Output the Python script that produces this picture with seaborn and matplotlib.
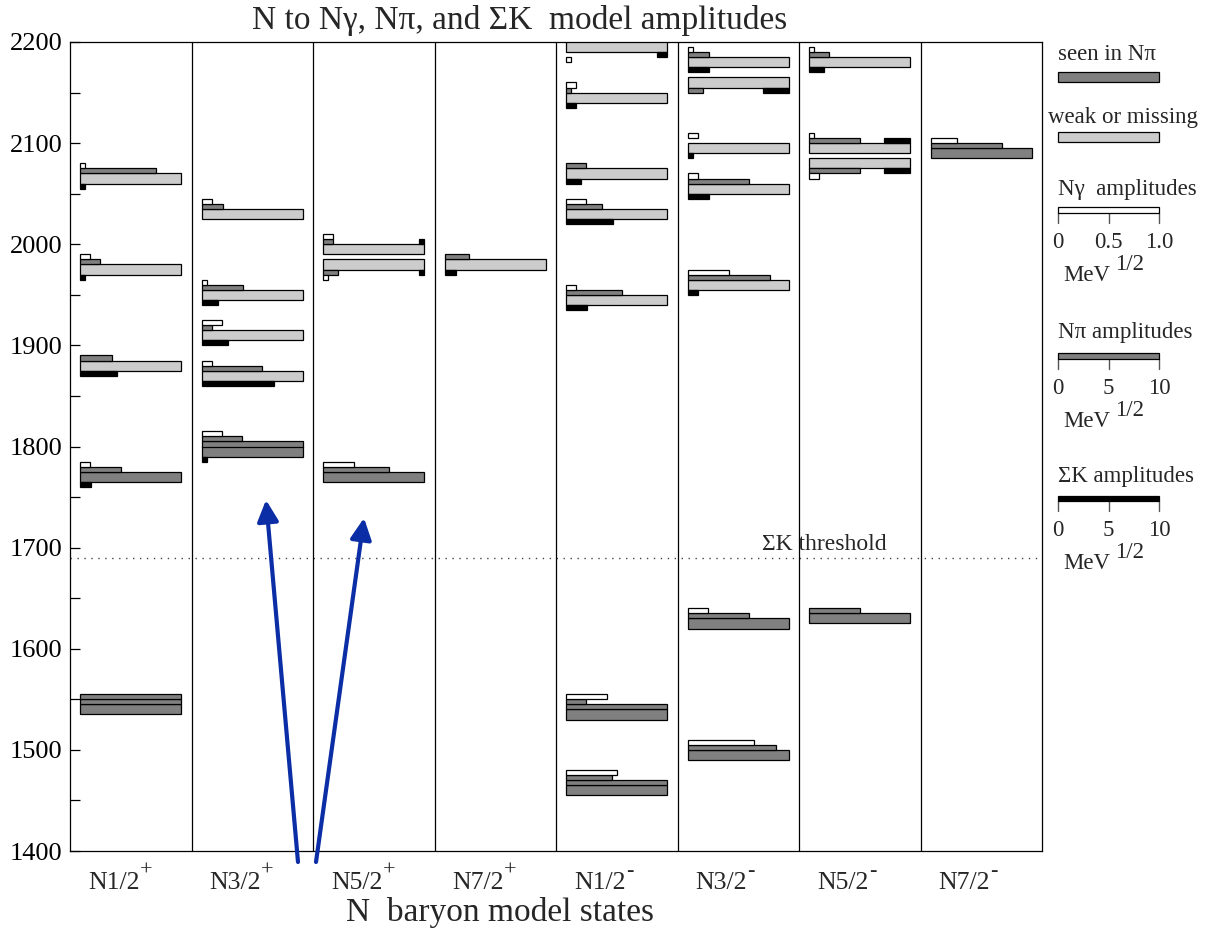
import math
import matplotlib
matplotlib.use("Agg")
import matplotlib.pyplot as plt
import seaborn as sns

# partial waves (one column each): base label and parity superscript
wave_names = ["N1/2", "N3/2", "N5/2", "N7/2", "N1/2", "N3/2", "N5/2", "N7/2"]
wave_parity = ["+", "+", "+", "+", "-", "-", "-", "-"]

# model states: column, mass (MeV), seen in N-pi (1) or weak/missing (0)
state_col = [0, 0, 0, 0, 0,
             1, 1, 1, 1, 1,
             2, 2, 2,
             3,
             4, 4, 4, 4, 4, 4, 4,
             5, 5, 5, 5, 5, 5, 5,
             6, 6, 6, 6,
             7]
state_mass = [1540, 1770, 1880, 1975, 2065,
              1795, 1870, 1910, 1950, 2030,
              1770, 1980, 1995,
              1980,
              1460, 1535, 1945, 2030, 2070, 2145, 2195,
              1495, 1625, 1960, 2055, 2095, 2160, 2180,
              1630, 2080, 2095, 2180,
              2090]
state_seen = [1, 1, 0, 0, 0,
              1, 0, 0, 0, 0,
              1, 0, 0,
              0,
              1, 1, 0, 0, 0, 0, 0,
              1, 1, 0, 0, 0, 0, 0,
              1, 0, 0, 0,
              1]
# decay amplitudes, MeV^1/2
amp_ngamma = [0.0, 0.1, 0.0, 0.1, 0.05,
              0.2, 0.1, 0.2, 0.05, 0.1,
              0.3, 0.05, 0.1,
              0.0,
              0.5, 0.4, 0.1, 0.2, 0.0, 0.1, 0.05,
              0.66, 0.2, 0.41, 0.1, 0.1, 0.0, 0.05,
              0.0, 0.1, 0.05, 0.05,
              0.26]
amp_npi = [20.0, 4.0, 3.1, 2.0, 7.5,
           14.0, 6.0, 1.0, 4.1, 2.1,
           6.5, 1.5, 1.0,
           2.4,
           14.5, 12.0, 5.5, 3.5, 2.0, 0.5, 0.0,
           8.7, 6.1, 8.1, 6.1, 0.0, 1.55, 2.1,
           5.0, 5.0, 5.0, 2.0,
           7.0]
amp_sigk = [0.0, 1.05, 3.6, 0.5, 0.5,
            0.55, 7.1, 2.6, 1.6, 0.0,
            0.0, 0.57, 0.57,
            1.1,
            0.0, 0.0, 2.1, 4.6, 1.5, 1.0, 1.0,
            0.0, 0.0, 1.05, 2.1, 0.57, 2.55, 2.1,
            0.0, 2.6, 2.6, 1.5,
            0.0]
# bar arrangement: "up" = decay bars stacked above the level, sigma-K below;
# "_r" = sigma-K hung from the right end of the N-pi row; "down" = stacked below
state_layout = ["up", "up", "up", "up", "up",
                "up", "up", "up", "up", "up",
                "up", "down_r", "up_r",
                "up",
                "up", "up", "up", "up", "up", "up", "down_r",
                "up", "up", "up", "up", "up", "down_r", "up",
                "up", "down_r", "up_r", "up",
                "up"]

sigk_threshold = 1690
y_ticks = [1400, 1500, 1600, 1700, 1800, 1900, 2000, 2100, 2200]

# ---------------------------------------------------------------- styling
sns.set_theme(style="white")
plt.rcParams["font.family"] = ["Liberation Serif", "DejaVu Serif"]

DARK, LIGHT, BLACK, WHITE = "#808080", "#cccccc", "#000000", "#ffffff"
COL_W, BAR_X0, FULL, ROW = 12.0, 1.0, 10.0, 5.0
W, H = 1215, 949
FS_LEG = 16.5

fig = plt.figure(figsize=(W / 100, H / 100), dpi=100)
ax = fig.add_axes([70 / W, 1 - 851 / H, (1042 - 70) / W, (851 - 42) / H])
ax.set_xlim(0, 8 * COL_W)
ax.set_ylim(1400, 2200)


def hbar(x0, width, y0, y1, color, clip=True, lw=0.9):
    bars = ax.barh((y0 + y1) / 2, width, left=x0, height=abs(y1 - y0),
                   color=color, edgecolor="black", linewidth=lw, zorder=3)
    for p in bars:
        p.set_clip_on(clip)


for c, m, seen, ng, npi, sk, lay in zip(state_col, state_mass, state_seen,
                                         amp_ngamma, amp_npi, amp_sigk,
                                         state_layout):
    x0 = c * COL_W + BAR_X0
    hbar(x0, FULL, m - ROW, m + ROW, DARK if seen else LIGHT)
    s = -1 if lay.startswith("down") else 1
    n_rows = max(1, math.ceil(npi / FULL - 1e-9))
    rest = npi
    for i in range(n_rows):
        w = min(FULL, rest)
        if w > 0:
            hbar(x0, w, m + s * (ROW + ROW * i), m + s * (2 * ROW + ROW * i), DARK)
        rest -= w
    if ng > 0:
        hbar(x0, ng * FULL, m + s * (ROW + ROW * n_rows),
             m + s * (2 * ROW + ROW * n_rows), WHITE)
    if sk > 0:
        if lay.endswith("_r"):
            hbar(x0 + FULL - sk, sk, m + s * ROW, m + s * 2 * ROW, BLACK)
        else:
            hbar(x0, sk, m - ROW, m - 2 * ROW, BLACK)

for k in range(1, 8):
    ax.axvline(k * COL_W, color="black", lw=0.9, zorder=2)

ax.axhline(sigk_threshold, color="#444444", lw=1.0, ls=(0, (1, 4)), zorder=1)
ax.text(68.3, sigk_threshold + 3, "\u03a3K threshold", fontsize=17,
        ha="left", va="bottom")

for sp in ax.spines.values():
    sp.set_color("black")
    sp.set_linewidth(0.9)

ax.set_yticks(y_ticks)
ax.set_yticks([v + 50 for v in y_ticks[:-1]], minor=True)
ax.tick_params(axis="y", which="both", direction="in", length=7, width=0.9,
               colors="black", labelsize=19, pad=5.5, left=True)
ax.set_xticks([])
xt_tr = ax.get_xaxis_transform()
for k, (name, par) in enumerate(zip(wave_names, wave_parity)):
    xc = k * COL_W + COL_W / 2
    ax.text(xc + 0.85, -0.04, name, transform=xt_tr,
            ha="right", va="center", fontsize=18.5)
    ax.text(xc + 0.9, -0.025, par, transform=xt_tr,
            ha="left", va="center", fontsize=16)


def fx(px):
    return px / W


def fy(py):
    return 1 - py / H


def dx(px):
    return (px - 70) / (972 / 96)


def dy(py):
    return 2200 - (py - 42) * 800 / 809


fig.text(fx(520), fy(21), "N to N\u03b3, N\u03c0, and \u03a3K  model amplitudes",
         ha="center", va="center", fontsize=24)
fig.text(fx(500), fy(912), "N  baryon model states", ha="center", va="center",
         fontsize=24)

# legend column on the right
LX = dx(1058)
fig.text(fx(1058), fy(55), "seen in N\u03c0", fontsize=FS_LEG, va="center")
hbar(LX, FULL, dy(81.7), dy(71.7), DARK, clip=False)
fig.text(fx(1048), fy(117), "weak or missing", fontsize=FS_LEG, va="center")
hbar(LX, FULL, dy(141.7), dy(131.7), LIGHT, clip=False)

scales = [("N\u03b3  amplitudes", WHITE, ["0", "0.5", "1.0"], 189, 207, 213),
          ("N\u03c0 amplitudes", DARK, ["0", "5", "10"], 333, 353, 359),
          ("\u03a3K amplitudes", BLACK, ["0", "5", "10"], 477, 496, 501)]
for title, col, labs, ty, b0, b1 in scales:
    fig.text(fx(1058), fy(ty), title, fontsize=FS_LEG, va="center")
    hbar(LX, FULL, dy(b1), dy(b0), col, clip=False)
    for j, lab in enumerate(labs):
        xt = LX + j * FULL / 2
        ax.plot([xt, xt], [dy(b1), dy(b1 + 10)], color="#555555", lw=1.0,
                clip_on=False)
        ax.text(xt, dy(b1 + 29), lab, fontsize=FS_LEG, ha="center", va="center")
    fig.text(fx(1063), fy(b1 + 68), "MeV", fontsize=FS_LEG, va="baseline")
    fig.text(fx(1115), fy(b1 + 57), "1/2", fontsize=FS_LEG, va="baseline")

# arrows pointing at two of the columns
for tail, tip in [((298, 862), (266, 500)), ((316, 862), (364, 518))]:
    ax.annotate("", xy=(fx(tip[0]), fy(tip[1])), xytext=(fx(tail[0]), fy(tail[1])),
                xycoords="figure fraction", textcoords="figure fraction",
                arrowprops=dict(arrowstyle="-|>", color="#0b2ea6", lw=3,
                                mutation_scale=32, shrinkA=0, shrinkB=0),
                annotation_clip=False, zorder=5)

fig.savefig("out.png", dpi=100)
